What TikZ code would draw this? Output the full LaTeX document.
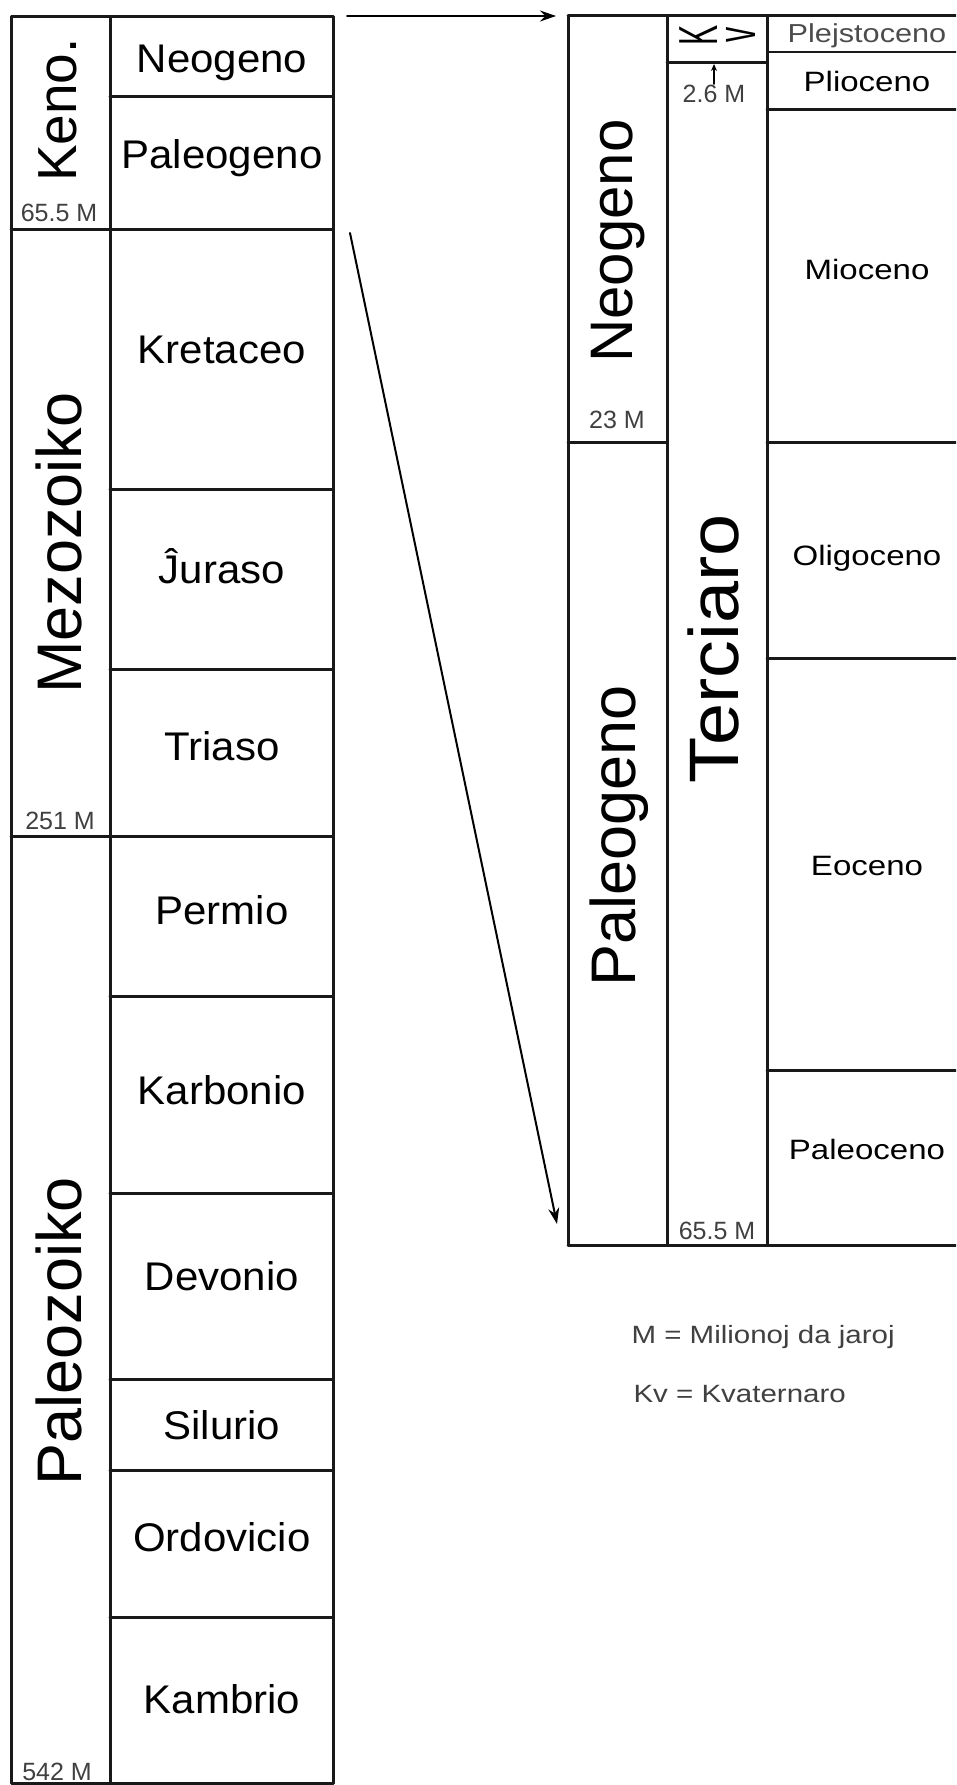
\documentclass[tikz,border=0pt]{standalone}
\usepackage{fontspec}
\setmainfont{Liberation Sans}
\newfontfamily\widesf[FakeStretch=1.18]{Liberation Sans}
\newfontfamily\periodsf[FakeStretch=1.05]{Liberation Sans}
\usepackage{graphicx}
\usetikzlibrary{arrows}
\usetikzlibrary{arrows.meta}

\begin{document}
\begin{tikzpicture}[line cap=round,line join=round,>={Stealth[length=16pt,width=11pt]},x=1pt,y=-1pt,
  grid/.style={line width=3pt,color=black!90},
  thingrid/.style={line width=2pt,color=black!90},
  era/.style={rotate=90,font=\fontsize{63}{63}\selectfont},
  period/.style={anchor=base,font=\periodsf\fontsize{40}{40}\selectfont},
  epoch/.style={anchor=base,font=\widesf\fontsize{28}{28}\selectfont},
  age/.style={anchor=base,color=black!75,font=\fontsize{25}{25}\selectfont},
  legend/.style={anchor=base west,color=black!75,font=\widesf\fontsize{25}{25}\selectfont}]
\useasboundingbox (0,0) rectangle (956,1785);
\clip (0,0) rectangle (956,1785);
% left table
\draw [grid] (11,17) rectangle (333,1783);
\draw [grid] (110,17)-- (110,1783);
\draw [grid] (110,96)-- (333,96);
\draw [grid] (11,229)-- (333,229);
\draw [grid] (110,489)-- (333,489);
\draw [grid] (110,669)-- (333,669);
\draw [grid] (11,836)-- (333,836);
\draw [grid] (110,996)-- (333,996);
\draw [grid] (110,1193)-- (333,1193);
\draw [grid] (110,1379)-- (333,1379);
\draw [grid] (110,1470)-- (333,1470);
\draw [grid] (110,1617)-- (333,1617);
% right table
\draw [grid] (568,16)-- (967,16);
\draw [grid] (568,16)-- (568,1245);
\draw [grid] (667,16)-- (667,1245);
\draw [grid] (767,16)-- (767,1245);
\draw [grid] (568,1245)-- (967,1245);
\draw [thingrid] (767,52)-- (967,52);
\draw [grid] (667,63)-- (767,63);
\draw [grid] (767,109)-- (967,109);
\draw [grid] (568,442)-- (667,442);
\draw [grid] (767,442)-- (967,442);
\draw [grid] (767,658)-- (967,658);
\draw [grid] (767,1070)-- (967,1070);
% arrows
\coordinate (topfrom) at (347,16);
\coordinate (topto) at (556,16);
\coordinate (diagfrom) at (350,233);
\coordinate (diagto) at (557,1224);
\coordinate (kvfrom) at (714,84);
\coordinate (kvto) at (714,64);
\draw [->,line width=2pt] (topfrom)-- (topto);
\draw [->,line width=2pt] (diagfrom)-- (diagto);
\draw [-{Stealth[length=7pt,width=6pt]},line width=1.6pt] (kvfrom)-- (kvto);
% eras
\draw[color=black] (58,110) node[era,font=\fontsize{55}{55}\selectfont] (keno) {Keno.};
\draw[color=black] (59,543) node[era] (mezozoiko) {Mezozoiko};
\draw[color=black] (59,1331) node[era] (paleozoiko) {Paleozoiko};
\draw[color=black] (618,241) node[era,font=\fontsize{60}{60}\selectfont] (neogenoR) {Neogeno};
\draw[color=black] (619,836) node[era] (paleogenoR) {Paleogeno};
\draw[color=black] (713,649) node[era,font=\fontsize{70}{70}\selectfont] (terciaro) {\scalebox{1.08}[1]{Terciaro}};
\draw[color=black] (699,35) node[rotate=90,font=\fontsize{55}{55}\selectfont] (kvK) {\scalebox{0.55}[1]{K}};
\draw[color=black] (741,35) node[rotate=90,font=\fontsize{55}{55}\selectfont] (kvV) {\scalebox{0.55}[1]{v}};
% periods
\draw[color=black] (222,72) node[period] (neogeno) {Neogeno};
\draw[color=black] (222,168) node[period] (paleogeno) {Paleogeno};
\draw[color=black] (222,363) node[period] (kretaceo) {Kretaceo};
\draw[color=black] (222,583) node[period] (juraso) {Ĵuraso};
\draw[color=black] (222,760) node[period] (triaso) {Triaso};
\draw[color=black] (222,924) node[period] (permio) {Permio};
\draw[color=black] (222,1104) node[period] (karbonio) {Karbonio};
\draw[color=black] (222,1290) node[period] (devonio) {Devonio};
\draw[color=black] (222,1439) node[period] (silurio) {Silurio};
\draw[color=black] (222,1551) node[period] (ordovicio) {Ordovicio};
\draw[color=black] (222,1713) node[period] (kambrio) {Kambrio};
% epochs
\draw[color=black!70] (867,43) node[epoch,font=\widesf\fontsize{26}{26}\selectfont] (plejstoceno) {Plejstoceno};
\draw[color=black] (867,92) node[epoch] (plioceno) {Plioceno};
\draw[color=black] (867,279) node[epoch] (mioceno) {Mioceno};
\draw[color=black] (867,565) node[epoch] (oligoceno) {Oligoceno};
\draw[color=black] (867,875) node[epoch] (eoceno) {Eoceno};
\draw[color=black] (867,1159) node[epoch] (paleoceno) {Paleoceno};
% ages
\draw (59,221) node[age] (ageKeno) {65.5 M};
\draw (60,829) node[age] (ageMezo) {251 M};
\draw (57,1780) node[age] (agePaleo) {542 M};
\draw (617,428) node[age] (ageNeo) {23 M};
\draw (714,102) node[age] (ageKv) {2.6 M};
\draw (717,1239) node[age] (ageTerc) {65.5 M};
% legend
\draw (628,1343) node[legend] (legM) {M = Milionoj da jaroj};
\draw (630,1402) node[legend] (legKv) {Kv = Kvaternaro};
\end{tikzpicture}
\end{document}
